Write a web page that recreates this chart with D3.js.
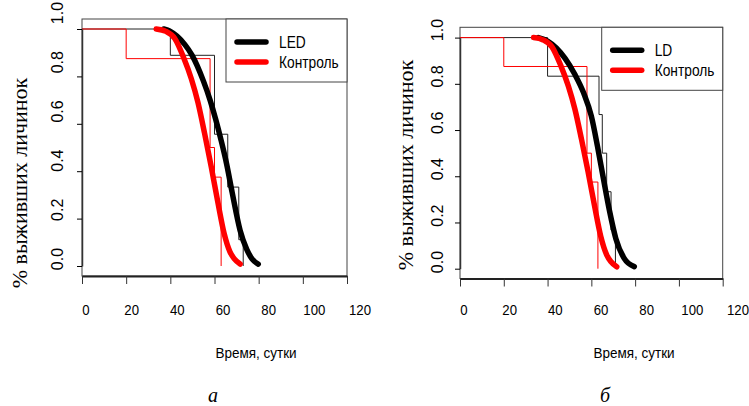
<!DOCTYPE html>
<html>
<head>
<meta charset="utf-8">
<script src="https://cdnjs.cloudflare.com/ajax/libs/d3/7.8.5/d3.min.js"></script>
<style>
body{margin:0;background:#fff;}
svg{display:block;background:#fff;}
.sans{font-family:"Liberation Sans",Arial,sans-serif;}
.serif{font-family:"Liberation Serif","Times New Roman",serif;}
</style>
</head>
<body>
<svg id="chart" width="749" height="406"></svg>
<script>
// axis ticks
var xTicks = [0,20,40,60,80,100,120];
var yTicks = [0,0.2,0.4,0.6,0.8,1];
var yTickLabels = ["0.0","0.2","0.4","0.6","0.8","1.0"];

// Kaplan-Meier steps (day, survival)
var ledStepDays = [0,40,60,66,71,73];
var ledStepSurv = [1,0.889,0.556,0.333,0.111,0];
var ldStepDays = [0,40,63.5,65,67,69,71];
var ldStepSurv = [1,0.833,0.667,0.5,0.333,0.167,0];
var ctrlStepDays = [0,20,58,60,63];
var ctrlStepSurv = [1,0.875,0.5,0.375,0];

// fitted survival curves (thick lines)
var ledFitDays = [37,40,43,46.5,49.8,55,58,60.5,63,65.5,68,71.6,74.6,77,79.8];
var ledFitSurv = [1,0.99,0.97,0.935,0.89,0.78,0.70,0.62,0.53,0.43,0.31,0.15,0.07,0.03,0.008];
var ldFitDays = [35.8,40,44,48,52.5,56.5,60,62.8,65.5,68.3,71.2,75,79.6];
var ldFitSurv = [1,0.985,0.955,0.91,0.84,0.76,0.66,0.53,0.39,0.25,0.13,0.045,0.009];
var ctrlFitDays = [33.6,38,42,46,49.5,52.5,55.5,58.5,61.5,64.3,67,69,71.6];
var ctrlFitSurv = [1,0.99,0.96,0.88,0.79,0.69,0.56,0.42,0.27,0.14,0.06,0.03,0.008];

var legendNames = ["Контроль"];

var svg = d3.select("#chart");

function zip(a, b){
    return a.map(function(d,i){ return [d, b[i]]; });
}

// the original text is a bit condensed, squeeze it horizontally
function squeezed(sel, x, y, sx){
    return sel.attr("transform","translate("+x+","+y+") scale("+sx+",1)");
}

function drawPanel(svg, p){
    var x = d3.scaleLinear().domain([0,120]).range([p.left, p.right]);
    var y = d3.scaleLinear().domain([0,1]).range([p.y0, p.y1]);
    // tick labels sit on their own (slightly shifted) layer in the original
    var xl = d3.scaleLinear().domain([0,120]).range([p.xlA, p.xlB]);
    var yl = d3.scaleLinear().domain([0,1]).range([p.ylA, p.ylB]);

    var g = svg.append("g").attr("class","panel");

    g.append("rect")
        .attr("x",p.left).attr("y",p.top)
        .attr("width",p.right-p.left).attr("height",p.bottom-p.top)
        .attr("fill","none").attr("stroke","#444").attr("stroke-width",1);

    var line = d3.line()
        .x(function(d){ return x(d[0]); })
        .y(function(d){ return y(d[1]); });
    var step = d3.line()
        .curve(d3.curveStepAfter)
        .x(function(d){ return x(d[0]); })
        .y(function(d){ return y(d[1]); });

    //steps first, thin
    g.append("path").datum(zip(p.stepDays, p.stepSurv))
        .attr("d",step).attr("fill","none").attr("stroke","#222").attr("stroke-width",1);
    g.append("path").datum(zip(ctrlStepDays, ctrlStepSurv))
        .attr("d",step).attr("fill","none").attr("stroke","#ff0000").attr("stroke-width",1);

    line.curve(d3.curveMonotoneX);
    g.append("path").datum(zip(p.fitDays, p.fitSurv))
        .attr("d",line).attr("fill","none").attr("stroke","#000")
        .attr("stroke-width",5.5).attr("stroke-linecap","round");
    g.append("path").datum(zip(ctrlFitDays, ctrlFitSurv))
        .attr("d",line).attr("fill","none").attr("stroke","#ff0000")
        .attr("stroke-width",5.5).attr("stroke-linecap","round");

    // axes
    var xa = g.append("g").attr("transform","translate(0,"+p.bottom+")")
        .call(d3.axisBottom(x).tickValues(xTicks).tickSize(8).tickSizeOuter(0).tickFormat(""));
    xa.select(".domain").attr("stroke","#222").attr("stroke-width",2);
    xa.selectAll(".tick line").attr("stroke","#333");

    var ya = g.append("g").attr("transform","translate("+p.left+",0)")
        .call(d3.axisLeft(y).tickValues(yTicks).tickSize(5).tickSizeOuter(0).tickFormat(""));
    ya.select(".domain").attr("stroke","#333").attr("stroke-width",1.5);

    g.selectAll(".xlab").data(xTicks).enter().append("text")
        .attr("class","sans xlab")
        .attr("transform",function(d){ return "translate("+xl(d)+","+p.xlBase+") scale(0.88,1)"; })
        .attr("text-anchor","middle")
        .attr("font-size",15)
        .text(function(d){ return d; });

    g.selectAll(".ylab").data(yTicks).enter().append("text")
        .attr("class","sans ylab")
        .attr("transform",function(d){ return "translate("+p.ylBase+","+yl(d)+") rotate(-90)"; })
        .attr("text-anchor","middle")
        .attr("font-size",16)
        .text(function(d,i){ return yTickLabels[i]; });

    // legend, top right
    var lg = g.append("g").attr("transform","translate("+(p.right-121)+","+p.top+")");
    lg.append("rect").attr("width",121).attr("height",63)
        .attr("fill","#fff").attr("stroke","#444").attr("stroke-width",1);
    var items = [[p.name,"#000"],[legendNames[0],"#ff0000"]];
    items.forEach(function(it,i){
        lg.append("line").attr("x1",11).attr("x2",40)
            .attr("y1",23+i*20).attr("y2",23+i*20)
            .attr("stroke",it[1]).attr("stroke-width",5.5).attr("stroke-linecap","round");
        squeezed(lg.append("text").attr("class","sans"), 53, 23+i*20+6, 0.86)
            .attr("font-size",16)
            .text(it[0]);
    });

    squeezed(g.append("text").attr("class","sans"), p.titleX, 358, 0.9)
        .attr("text-anchor","middle").attr("font-size",15)
        .text("Время, сутки");

    g.append("text").attr("class","serif")
        .attr("transform","translate("+p.ytX+","+p.ytY+") rotate(-90)")
        .attr("text-anchor","middle").attr("font-size",22)
        .text("% выживших личинок");

    g.append("text").attr("class","serif")
        .attr("x",p.subX).attr("y",402)
        .attr("text-anchor","middle").attr("font-size",20).attr("font-style","italic")
        .text(p.sub);
}

drawPanel(svg,{
    left:82, right:347, top:19, bottom:276, y0:266, y1:29,
    xlA:86, xlB:360, xlBase:315, ylA:259, ylB:13, ylBase:63,
    name:"LED", stepDays:ledStepDays, stepSurv:ledStepSurv,
    fitDays:ledFitDays, fitSurv:ledFitSurv,
    titleX:256, ytX:27, ytY:183, subX:213, sub:"а"
});
drawPanel(svg,{
    left:460, right:722.7, top:27.3, bottom:278.5, y0:268.7, y1:37.6,
    xlA:464, xlB:738, xlBase:315, ylA:262, ylB:30, ylBase:443,
    name:"LD", stepDays:ldStepDays, stepSurv:ldStepSurv,
    fitDays:ldFitDays, fitSurv:ldFitSurv,
    titleX:634, ytX:413, ytY:165, subX:605, sub:"б"
});
</script>
</body>
</html>
